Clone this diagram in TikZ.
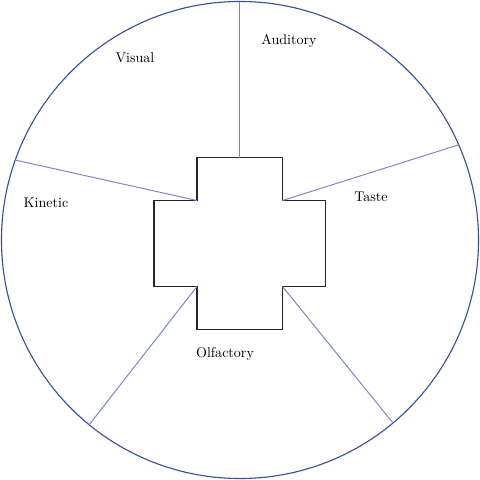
\documentclass[tikz,border=0pt]{standalone}
\usetikzlibrary{calc}
\definecolor{rimblue}{RGB}{58,78,168}
\definecolor{spokeblue}{RGB}{122,134,204}
\tikzset{
  rim/.style={draw=rimblue, line width=0.8pt},
  spoke/.style={draw=spokeblue, line width=0.7pt},
  crossline/.style={draw=black!85, line width=0.8pt},
  sense/.style={font=\normalsize, inner sep=1pt}
}
\begin{document}
\begin{tikzpicture}[x=0.25mm, y=-0.25mm]
\useasboundingbox (0,0) rectangle (480,480);

\coordinate (c) at (240,240);
\draw[rim] (c) circle (238.5*0.25mm);

% cross
\coordinate (tl) at (197,157.5);
\coordinate (tr) at (282.5,157.5);
\coordinate (rt) at (282.5,200.5);
\coordinate (rr) at (325.5,200.5);
\coordinate (rb) at (325.5,286.5);
\coordinate (br) at (282.5,286.5);
\coordinate (bb) at (282.5,329.5);
\coordinate (bl) at (197,329.5);
\coordinate (lb) at (197,286.5);
\coordinate (ll) at (154,286.5);
\coordinate (lt) at (154,200.5);
\coordinate (tt) at (197,200.5);
\coordinate (top) at (239,157.5);
\draw[crossline] (tl) -- (tr) -- (rt) -- (rr) -- (rb) -- (br) -- (bb) -- (bl) -- (lb) -- (ll) -- (lt) -- (tt) -- cycle;

% spokes
\coordinate (pn) at (239,1.5);
\coordinate (pe) at (458,145);
\coordinate (pse) at (393,423);
\coordinate (psw) at (89,425);
\coordinate (pw) at (15,160);
\draw[spoke] (top) -- (pn);
\draw[spoke] (rt) -- (pe);
\draw[spoke] (br) -- (pse);
\draw[spoke] (lb) -- (psw);
\draw[spoke] (tt) -- (pw);

% labels
\node[sense] (visual) at (135,58) {Visual};
\node[sense] (auditory) at (289,41) {Auditory};
\node[sense] (taste) at (371,197) {Taste};
\node[sense] (kinetic) at (46,203) {Kinetic};
\node[sense] (olfactory) at (225,354) {Olfactory};
\end{tikzpicture}
\end{document}
